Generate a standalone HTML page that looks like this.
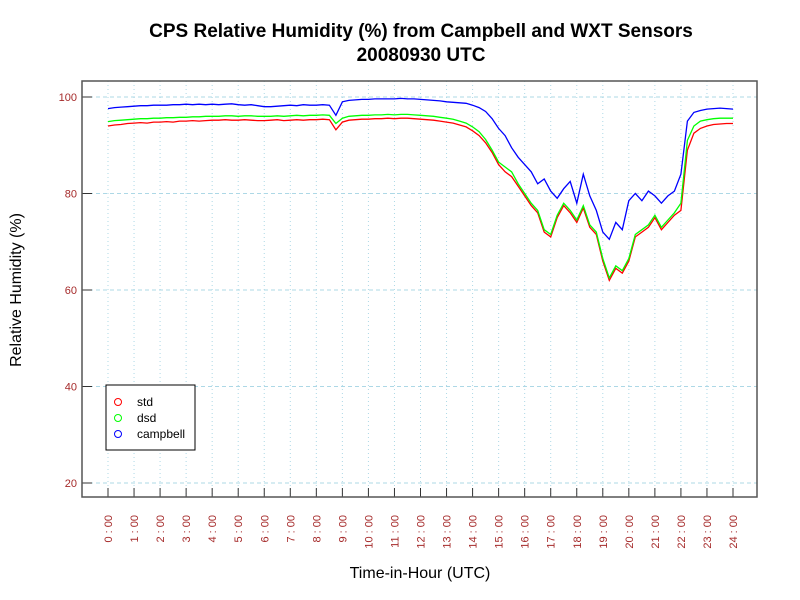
<!DOCTYPE html>
<html><head><meta charset="utf-8"><style>
body{margin:0;background:#fff;}
svg{display:block;font-family:"Liberation Sans",sans-serif;}
</style></head><body>
<svg id="chart" width="800" height="600">
<rect width="800" height="600" fill="#fff"/>
<text x="421" y="37" text-anchor="middle" font-size="19" font-weight="bold">CPS Relative Humidity (%) from Campbell and WXT Sensors</text>
<text x="421" y="61" text-anchor="middle" font-size="19" font-weight="bold">20080930  UTC</text>
<text x="420" y="578" text-anchor="middle" font-size="16">Time-in-Hour (UTC)</text>
<text transform="translate(21,290) rotate(-90)" text-anchor="middle" font-size="16">Relative Humidity (%)</text>
<g id="grid"></g><g id="series"></g><g id="axes"></g>
<rect x="82" y="81" width="675" height="416" fill="none" stroke="#555" stroke-width="1.5"/>
<g>
<rect x="106" y="385" width="89" height="65" fill="#fff" stroke="#000"/>
<g><circle cx="118" cy="402" r="3.5" fill="none" stroke="#f00"/><text x="137" y="406" font-size="12">std</text></g>
<g><circle cx="118" cy="418" r="3.5" fill="none" stroke="#0f0"/><text x="137" y="422" font-size="12">dsd</text></g>
<g><circle cx="118" cy="434" r="3.5" fill="none" stroke="#00f"/><text x="137" y="438" font-size="12">campbell</text></g>
</g>
</svg>
<script>
const hourTicks=[0,1,2,3,4,5,6,7,8,9,10,11,12,13,14,15,16,17,18,19,20,21,22,23,24];
const yTicks=[20,40,60,80,100];
const campbell=[97.6,97.8,97.9,98.0,98.1,98.2,98.2,98.3,98.3,
98.3,98.4,98.4,98.5,98.4,98.5,98.4,98.5,
98.4,98.5,98.6,98.4,98.3,98.4,98.2,98.0,
98.0,98.1,98.2,98.3,98.2,98.4,98.3,98.3,
98.4,98.3,96.2,99.0,99.3,99.4,99.5,99.5,
99.6,99.6,99.6,99.6,99.7,99.6,99.6,99.5,
99.4,99.3,99.2,99.0,98.9,98.8,98.7,98.3,
97.8,97.0,95.5,93.5,92.0,89.5,87.5,86.0,
84.5,82.0,83.0,80.5,79.0,81.0,82.5,78.0,
84.0,79.5,76.5,72.0,70.5,74.0,72.5,78.5,
80.0,78.5,80.5,79.5,78.0,79.5,80.5,84.0,
95.0,96.8,97.2,97.5,97.6,97.7,97.6,97.5];
const std=[94.0,94.2,94.3,94.5,94.6,94.7,94.6,94.8,94.8,
94.9,94.8,95.0,95.0,95.1,95.0,95.1,95.2,
95.2,95.3,95.2,95.2,95.3,95.2,95.1,95.1,
95.2,95.3,95.1,95.2,95.3,95.2,95.3,95.3,
95.4,95.3,93.2,94.8,95.2,95.3,95.4,95.4,
95.5,95.5,95.6,95.5,95.6,95.6,95.5,95.4,
95.3,95.2,95.0,94.8,94.6,94.2,93.8,93.0,
92.0,90.5,88.5,86.0,84.5,83.5,81.5,79.5,
77.5,76.0,72.0,71.0,75.0,77.5,76.0,74.0,
77.0,73.0,71.5,66.0,62.0,64.5,63.5,66.0,
71.0,72.0,73.0,75.0,72.5,74.0,75.5,76.5,
89.0,92.5,93.5,94.0,94.3,94.4,94.5,94.5];
const dsd=[94.9,95.1,95.2,95.3,95.4,95.5,95.5,95.6,95.6,
95.7,95.7,95.8,95.8,95.9,95.9,96.0,96.0,
96.0,96.1,96.1,96.0,96.1,96.1,96.0,96.0,
96.0,96.1,96.0,96.1,96.2,96.1,96.2,96.2,
96.3,96.2,94.5,95.6,96.0,96.1,96.2,96.2,
96.3,96.3,96.4,96.3,96.4,96.4,96.3,96.2,
96.1,96.0,95.8,95.6,95.4,95.0,94.6,93.8,
92.8,91.2,89.0,86.5,85.5,84.5,82.0,80.0,
78.0,76.5,72.5,71.5,75.5,78.0,76.5,74.5,
77.5,73.5,72.0,66.5,62.5,65.0,64.0,66.5,
71.5,72.5,73.5,75.5,73.0,74.5,76.0,78.0,
91.0,94.0,95.0,95.3,95.5,95.6,95.6,95.6];
const stepHours=0.25;
const NS='http://www.w3.org/2000/svg';
function xs(h){return 108+h*(733-108)/24;}
function ys(v){return 97+(100-v)*(483-97)/80;}
function mk(tag,attrs,parent){const e=document.createElementNS(NS,tag);for(const k in attrs)e.setAttribute(k,attrs[k]);parent.appendChild(e);return e;}
const grid=document.getElementById('grid'),axes=document.getElementById('axes'),ser=document.getElementById('series');
hourTicks.forEach(h=>{
 const l=mk('line',{x1:xs(h),x2:xs(h),y1:81,y2:497,stroke:'#add8e6','stroke-dasharray':'1,3'},grid);
 
 
 const t=mk('line',{x1:xs(h),x2:xs(h),y1:497,y2:488,stroke:'#333'},axes);
 
 
 const tx=mk('text',{transform:`translate(${xs(h)+4},${515}) rotate(-90)`,'text-anchor':'end','font-size':'11',fill:'#a52a2a'},axes);
 tx.textContent=h+' : 00';
 
 
});
yTicks.forEach(v=>{
 const l=mk('line',{x1:82,x2:757,y1:ys(v),y2:ys(v),stroke:'#add8e6','stroke-dasharray':'4,3'},grid);
 
 
 const t=mk('line',{x1:82,x2:92,y1:ys(v),y2:ys(v),stroke:'#333'},axes);
 
 
 const tx=mk('text',{x:77,y:ys(v)+4,'text-anchor':'end','font-size':'11',fill:'#a52a2a'},axes);
 tx.textContent=v;
 
 
});
[[std,'#f00','series-std'],[dsd,'#0f0','series-dsd'],[campbell,'#00f','series-campbell']].forEach(([d,c,n])=>{
 const pts=d.map((v,i)=>xs(i*stepHours).toFixed(1)+','+ys(v).toFixed(1)).join(' ');
 const p=mk('polyline',{points:pts,fill:'none',stroke:c,'stroke-width':'1.3'},ser);
 
 
});
</script>
</body></html>
